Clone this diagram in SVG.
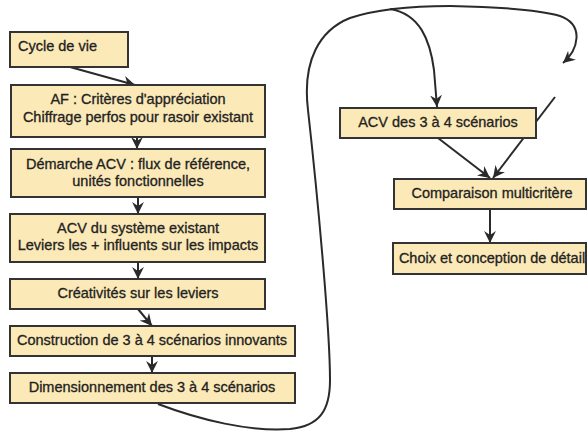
<svg xmlns="http://www.w3.org/2000/svg" width="587" height="432" viewBox="0 0 587 432">
<defs>
<style>
.box{fill:#fbe9b7;stroke:#333;stroke-width:2}
.t{font-family:"Liberation Sans",Arial,sans-serif;font-size:14.5px;fill:#222;stroke:#222;stroke-width:0.3;text-anchor:middle}
.l{text-anchor:start}
.c{fill:none;stroke:#2a2a2a;stroke-width:2}
</style>
<marker id="ah" markerUnits="userSpaceOnUse" markerWidth="13" markerHeight="13" viewBox="0 0 12 11" refX="11" refY="5.5" orient="auto">
<path d="M0,0 L11,5.5 L0,11 L3.5,5.5 z" fill="#2a2a2a"/>
</marker>
</defs>
<rect width="587" height="432" fill="#fff"/>
<g id="connectors">
<path class="c" d="M70,67 L135,85" marker-end="url(#ah)"/>
<path class="c" d="M137,137 L137,149" marker-end="url(#ah)"/>
<path class="c" d="M138,197 L138,214" marker-end="url(#ah)"/>
<path class="c" d="M138,262 L138,279" marker-end="url(#ah)"/>
<path class="c" d="M138,309 L152,326" marker-end="url(#ah)"/>
<path class="c" d="M152,356 L152,373" marker-end="url(#ah)"/>
<path class="c" d="M158,404 C200,420 250,432 290,429 C320,426 330,410 330,380 C330,330 318,200 308,110 C302,60 320,30 350,18 C380,8 420,6 450,6 C500,7 540,10 560,16 C585,25 578,50 563,63" marker-end="url(#ah)"/>
<path class="c" d="M390,9 C420,14 430,40 434,70 L437,107" marker-end="url(#ah)"/>
<path class="c" d="M438,138 L490,178" marker-end="url(#ah)"/>
<path class="c" d="M555,97 L493,178" marker-end="url(#ah)"/>
<path class="c" d="M490,209 L490,243" marker-end="url(#ah)"/>
</g>
<g id="n1"><rect class="box" x="10" y="32" width="118" height="35"/><text class="t l" x="18" y="51">Cycle de vie</text></g>
<g id="n2"><rect class="box" x="11" y="85" width="254" height="52"/><text class="t" x="138" y="104">AF : Critères d'appréciation</text><text class="t" x="138" y="122">Chiffrage perfos pour rasoir existant</text></g>
<g id="n3"><rect class="box" x="11" y="149" width="254" height="48"/><text class="t" x="138" y="169">Démarche ACV : flux de référence,</text><text class="t" x="138" y="186">unités fonctionnelles</text></g>
<g id="n4"><rect class="box" x="10" y="214" width="255" height="48"/><text class="t" x="138" y="233">ACV du système existant</text><text class="t" x="138" y="250">Leviers les + influents sur les impacts</text></g>
<g id="n5"><rect class="box" x="10" y="279" width="255" height="30"/><text class="t" x="138" y="298">Créativités sur les leviers</text></g>
<g id="n6"><rect class="box" x="10" y="326" width="285" height="30"/><text class="t" x="152" y="345">Construction de 3 à 4 scénarios innovants</text></g>
<g id="n7"><rect class="box" x="10" y="373" width="285" height="30"/><text class="t" x="152" y="392">Dimensionnement des 3 à 4 scénarios</text></g>
<g id="n8"><rect class="box" x="340" y="108" width="196" height="30"/><text class="t" x="438" y="127">ACV des 3 à 4 scénarios</text></g>
<g id="n9"><rect class="box" x="394" y="179" width="192" height="30"/><text class="t" x="492" y="198">Comparaison multicritère</text></g>
<g id="n10"><rect class="box" x="393" y="243" width="193" height="31"/><text class="t" x="492" y="263">Choix et conception de détail</text></g>
</svg>
